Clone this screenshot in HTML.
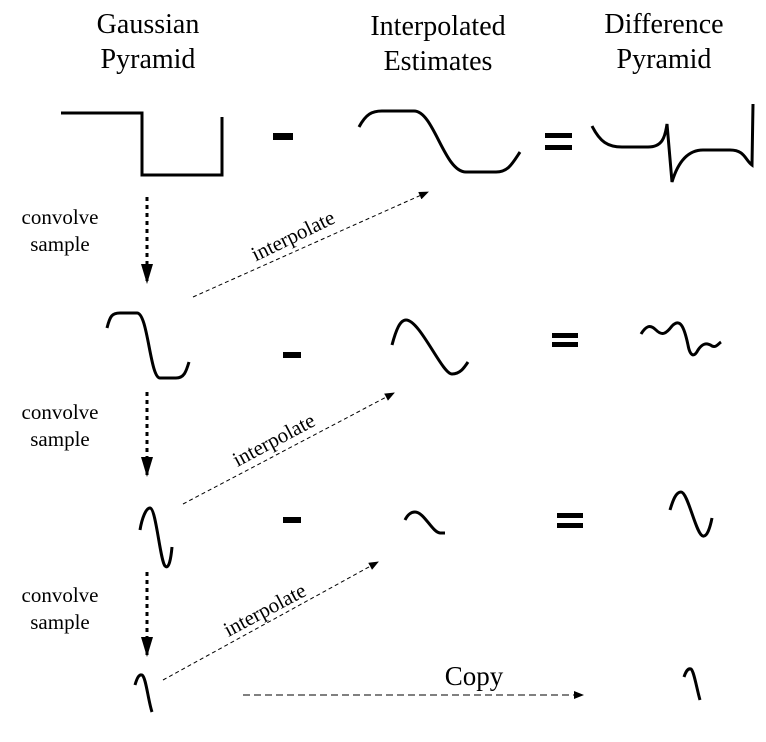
<!DOCTYPE html>
<html><head><meta charset="utf-8"><style>
html,body{margin:0;padding:0;background:#fff}
svg{display:block}
text{font-family:"Liberation Serif",serif;fill:#000}
</style></head><body>
<svg width="766" height="742" viewBox="0 0 766 742">
<defs>
<marker id="ah" markerWidth="10" markerHeight="8" refX="9" refY="4" orient="auto" markerUnits="userSpaceOnUse"><path d="M0,0 L10,4 L0,8 Z" fill="#000"/></marker>
<marker id="ahb" markerWidth="20" markerHeight="12" refX="18" refY="6" orient="auto" markerUnits="userSpaceOnUse"><path d="M0,0 L20,6 L0,12 Z" fill="#000"/></marker>
</defs>
<g font-size="28" text-anchor="middle">
<text x="148" y="33">Gaussian</text>
<text x="148" y="68">Pyramid</text>
<text x="438" y="35">Interpolated</text>
<text x="438" y="70">Estimates</text>
<text x="664" y="33">Difference</text>
<text x="664" y="68">Pyramid</text>
</g>
<g fill="none" stroke="#000" stroke-width="3" stroke-linejoin="miter">
<path d="M61,113 L142,113 L142,175 L222,175 L222,117"/>
<path d="M359,127 C366,114 372,111 382,111 L414,111 C434,111 444,172 466,172 L496,172 C508,172 512,164 520,152"/>
<path d="M592,126 C600,142 608,147 622,147 L648,147 C662,147 665,138 667,124 L672,182 C678,162 688,150 703,150 L730,150 C745,150 745,160 752,165 L753,104"/>
<path d="M107,328 C110,316 112,313 120,313 L137,313 C148,313 150,378 160,378 L176,378 C184,378 186,372 189,362"/>
<path d="M392,345 C396,330 400,320 406,320 C420,320 442,374 452,374 C460,374 464,368 468,362"/>
<path d="M641,334 C646,326 650,324 656,330 C662,336 666,334 672,326 C680,318 684,326 688,345 C690,356 694,358 698,350 C702,344 706,342 712,346 C716,348 718,344 721,342"/>
<path d="M140,530 C142,518 146,508 150,508 C156,508 160,560 165,566 C169,570 171,558 172,547"/>
<path d="M405,520 C408,514 411,512 415,512 C424,512 432,532 440,533 L445,533"/>
<path d="M670,510 C673,500 676,492 681,492 C688,492 696,535 703,536 C707,537 710,528 712,518"/>
<path d="M135,685 C137,678 139,674 142,675 C146,677 148,700 152,712"/>
<path d="M684,677 C686,671 688,668 691,669 C694,671 697,690 700,700"/>
</g>
<g fill="#000">
<rect x="273" y="133" width="20" height="7"/>
<rect x="545" y="133" width="27" height="5"/>
<rect x="545" y="145" width="27" height="5"/>
<rect x="283" y="352" width="18" height="6"/>
<rect x="552" y="333" width="26" height="5"/>
<rect x="552" y="342" width="26" height="5"/>
<rect x="283" y="517" width="18" height="6"/>
<rect x="557" y="513" width="26" height="5"/>
<rect x="557" y="523" width="26" height="5"/>
</g>
<g stroke="#000" fill="none">
<line x1="147" y1="197" x2="147" y2="282" stroke-width="3" stroke-dasharray="4,4" marker-end="url(#ahb)"/>
<line x1="147" y1="392" x2="147" y2="475" stroke-width="3" stroke-dasharray="4,4" marker-end="url(#ahb)"/>
<line x1="147" y1="572" x2="147" y2="655" stroke-width="3" stroke-dasharray="4,4" marker-end="url(#ahb)"/>
<line x1="193" y1="297" x2="428" y2="192" stroke-width="1" stroke-dasharray="4,3" marker-end="url(#ah)"/>
<line x1="183" y1="504" x2="394" y2="393" stroke-width="1" stroke-dasharray="4,3" marker-end="url(#ah)"/>
<line x1="163" y1="680" x2="378" y2="562" stroke-width="1" stroke-dasharray="4,3" marker-end="url(#ah)"/>
<line x1="243" y1="695" x2="583" y2="695" stroke-width="1" stroke-dasharray="7,4" marker-end="url(#ah)"/>
</g>
<g font-size="21" text-anchor="middle">
<text x="60" y="224">convolve</text>
<text x="60" y="251">sample</text>
<text x="60" y="419">convolve</text>
<text x="60" y="446">sample</text>
<text x="60" y="602">convolve</text>
<text x="60" y="629">sample</text>
<text transform="translate(296,242) rotate(-26)">interpolate</text>
<text transform="translate(277,446) rotate(-28)">interpolate</text>
<text transform="translate(268,616) rotate(-28)">interpolate</text>
<text x="474" y="685" font-size="27">Copy</text>
</g>
</svg>
</body></html>
